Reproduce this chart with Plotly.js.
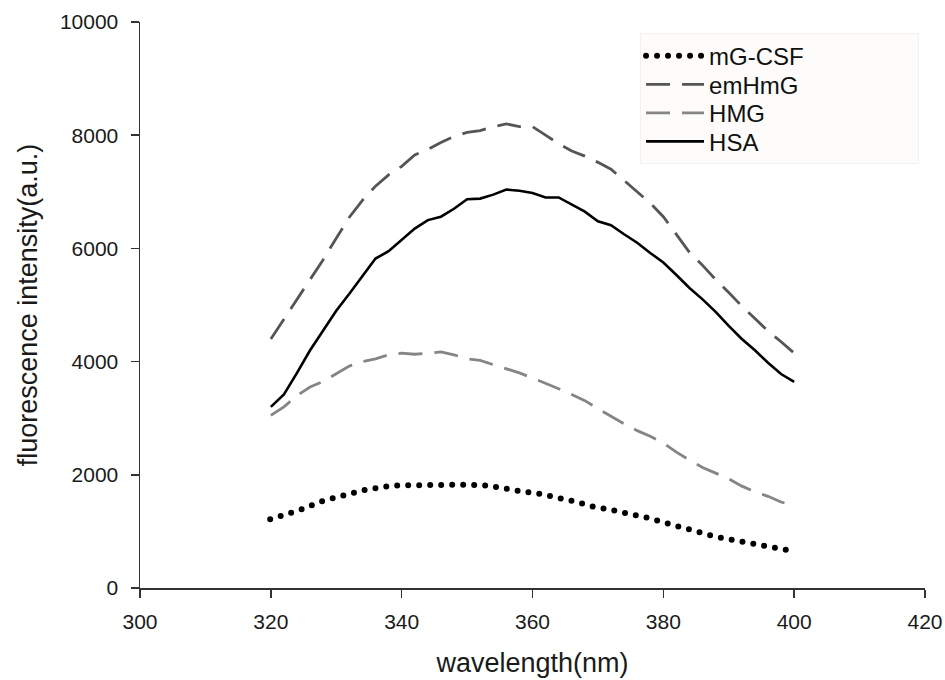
<!DOCTYPE html>
<html>
<head>
<meta charset="utf-8">
<script src="https://cdn.plot.ly/plotly-3.0.1.min.js"></script>
<style>
  html, body { margin: 0; padding: 0; background: #fff; }
  #chart { width: 945px; height: 680px; }
</style>
</head>
<body>
<div id="chart"></div>
<script>
// mG-CSF (read at each plotted dot)
const wlCSF = [319.9,321.6,323.3,325.0,326.6,328.2,329.9,331.6,333.2,334.9,336.6,338.3,340.0,341.7,343.4,345.1,346.9,348.5,350.2,351.9,353.5,355.2,356.9,358.6,360.2,361.9,363.6,365.3,367.0,368.7,370.3,372.0,373.7,375.4,377.1,378.8,380.5,382.2,383.8,385.5,387.2,388.8,390.6,392.2,393.9,395.6,397.4,399.0];
const mGCSF = [1213,1272,1349,1402,1478,1549,1596,1643,1702,1749,1767,1808,1814,1820,1820,1826,1838,1832,1826,1814,1808,1761,1743,1690,1690,1643,1602,1555,1514,1449,1425,1384,1337,1302,1254,1201,1143,1095,1037,978,931,889,848,818,772,742,701,671];

// wavelengths for the other three spectra
const wl = [320,322,324,326,328,330,332,334,336,338,340,342,344,346,348,350,352,354,356,358,360,362,364,366,368,370,372,374,376,378,380,382,384,386,388,390,392,394,396,398,400];
const emHmG = [4400,4750,5100,5450,5800,6180,6550,6850,7100,7300,7450,7650,7750,7870,7980,8050,8080,8150,8200,8150,8150,8000,7850,7720,7630,7520,7400,7200,7000,6800,6560,6250,5930,5700,5450,5220,4980,4760,4540,4350,4150];
const HMG = [3050,3200,3400,3550,3650,3780,3920,4000,4050,4120,4150,4130,4150,4170,4120,4050,4020,3950,3880,3800,3710,3620,3520,3420,3310,3170,3030,2900,2780,2680,2560,2400,2260,2130,2030,1930,1800,1700,1620,1520,1450];
const HSA = [3200,3420,3800,4200,4550,4900,5200,5500,5820,5950,6150,6350,6500,6560,6700,6870,6880,6950,7040,7020,6980,6900,6900,6780,6650,6480,6410,6250,6100,5920,5750,5530,5300,5100,4880,4630,4400,4200,3980,3780,3640];

const names = ['mG-CSF','emHmG','HMG','HSA'];
const xTicks = [300,320,340,360,380,400,420];
const yTicks = [0,2000,4000,6000,8000,10000];

const traces = [
  {x: wlCSF, y: mGCSF, name: names[0], mode: 'lines', type: 'scatter',
   line: {color: '#000', width: 6, dash: '0px,11px'}},
  {x: wl, y: emHmG, name: names[1], mode: 'lines', type: 'scatter',
   line: {color: '#555555', width: 2.8, dash: '24px,12px'}},
  {x: wl, y: HMG, name: names[2], mode: 'lines', type: 'scatter',
   line: {color: '#858585', width: 2.8, dash: '24px,12px'}},
  {x: wl, y: HSA, name: names[3], mode: 'lines', type: 'scatter',
   line: {color: '#000', width: 2.6}}
];

const layout = {
  width: 945, height: 680,
  margin: {l: 140, r: 20, t: 22, b: 92},
  paper_bgcolor: '#fff', plot_bgcolor: '#fff',
  font: {family: 'Liberation Sans, Arial, sans-serif', color: '#1a1a1a', size: 21},
  showlegend: true,
  legend: {x: 0.637, y: 0.981, xanchor: 'left', yanchor: 'top',
    bgcolor: 'rgba(253,252,250,1)', bordercolor: '#f3f1ef', borderwidth: 1,
    font: {size: 24, color: '#111'}, itemwidth: 58, tracegroupgap: 0,
    traceorder: 'normal'},
  xaxis: {range: [300, 420], tickvals: xTicks, ticktext: xTicks.map(String),
    showgrid: false, zeroline: false, showline: true, linecolor: '#333', linewidth: 1.5,
    ticks: 'outside', ticklen: 8, tickcolor: '#333', tickwidth: 1.5, ticklabelstandoff: 6,
    tickfont: {size: 21, color: '#1a1a1a'},
    title: {text: 'wavelength(nm)', font: {size: 27, color: '#1a1a1a'}, standoff: 21}},
  yaxis: {range: [0, 10000], tickvals: yTicks, ticktext: yTicks.map(String),
    showgrid: false, zeroline: false, showline: true, linecolor: '#333', linewidth: 1.5,
    ticks: 'outside', ticklen: 8, tickcolor: '#333', tickwidth: 1.5, ticklabelstandoff: 8,
    tickfont: {size: 21, color: '#1a1a1a'},
    title: {text: 'fluorescence intensity(a.u.)', font: {size: 27, color: '#1a1a1a'}, standoff: 14}}
};

Plotly.newPlot('chart', traces, layout, {displayModeBar: false, staticPlot: true}).then(function(gd){
  // round caps for the dotted series so dots render as circles
  const tr = gd.querySelectorAll('.scatterlayer .trace');
  if (tr.length) tr[0].querySelectorAll('path').forEach(p => p.style.strokeLinecap = 'round');
  const legItems = gd.querySelectorAll('.legend .traces');
  if (legItems.length) legItems[0].querySelectorAll('path').forEach(p => p.style.strokeLinecap = 'round');
  // tighter legend row spacing, as in the reference
  const rowGap = 28.5;
  let y0 = null;
  legItems.forEach(function(g, i){
    const m = /translate\(\s*([-\d.]+)[ ,]+([-\d.]+)\s*\)/.exec(g.getAttribute('transform') || '');
    if (!m) return;
    if (y0 === null) y0 = parseFloat(m[2]);
    g.setAttribute('transform', 'translate(' + m[1] + ',' + (y0 + i * rowGap) + ')');
  });
  const bg = gd.querySelector('.legend .bg');
  if (bg && y0 !== null) {
    bg.setAttribute('height', (y0 + 3 * rowGap + 22).toFixed(1));
    bg.setAttribute('width', '278');
  }
});
</script>
</body>
</html>
